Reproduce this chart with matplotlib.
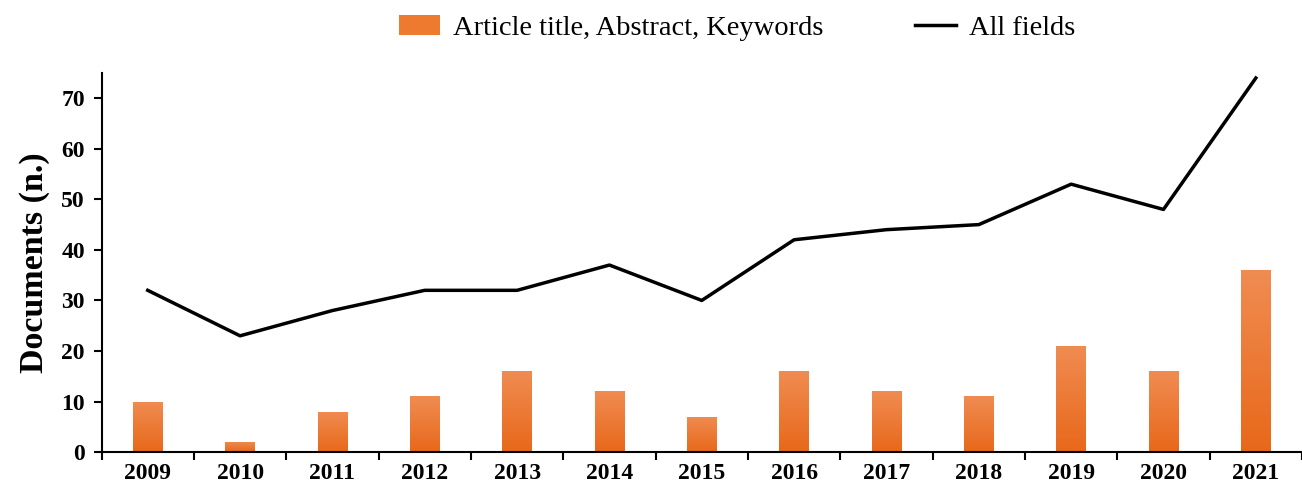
import matplotlib
matplotlib.use("Agg")
import matplotlib.pyplot as plt
import numpy as np
from matplotlib.patches import Patch
from matplotlib.lines import Line2D
from matplotlib.colors import LinearSegmentedColormap

years = ["2009", "2010", "2011", "2012", "2013", "2014", "2015", "2016", "2017", "2018", "2019", "2020", "2021"]
title_abs_kw = [10, 2, 8, 11, 16, 12, 7, 16, 12, 11, 21, 16, 36]
all_fields = [32, 23, 28, 32, 32, 37, 30, 42, 44, 45, 53, 48, 74]

plt.rcParams['font.family'] = ['Liberation Serif', 'DejaVu Serif']

fig = plt.figure(figsize=(13.02, 4.93), dpi=100)
ax = fig.add_axes([0.078, 0.083, 0.922, 0.769])

x = np.arange(len(years))
bw = 0.32
cmap = LinearSegmentedColormap.from_list("g", ["#e8681a", "#f08c52"])
grad = np.linspace(0, 1, 256).reshape(-1, 1)
bars = ax.bar(x, title_abs_kw, width=bw, color="none", edgecolor="none", zorder=2)
for b in bars:
    x0, y0 = b.get_x(), b.get_y()
    w, h = b.get_width(), b.get_height()
    im = ax.imshow(grad, cmap=cmap, origin="lower", aspect="auto",
                   extent=[x0, x0 + w, y0, y0 + h], zorder=2)
    im.set_clip_path(b)

ax.plot(x, all_fields, color="black", linewidth=2.5, zorder=3)

ax.set_xlim(-0.5, len(years) - 0.5)
ax.set_ylim(0, 75)
ax.set_yticks(np.arange(0, 71, 10))
ax.set_xticks(x)
ax.set_xticklabels(years)
ax.set_xticks(np.arange(-0.5, len(years), 1.0), minor=True)
ax.tick_params(axis='x', which='major', length=0, pad=8)
ax.tick_params(axis='x', which='minor', length=6, width=1.5, direction='out')
ax.tick_params(axis='y', length=6, width=1.5, direction='out', pad=6)
for lab in ax.get_xticklabels() + ax.get_yticklabels():
    lab.set_fontweight('bold')
    lab.set_fontsize(17)

for s in ['top', 'right']:
    ax.spines[s].set_visible(False)
for s in ['left', 'bottom']:
    ax.spines[s].set_linewidth(1.5)

ax.set_ylabel("Documents (n.)", fontsize=24.5, fontweight='bold', labelpad=8)

handles = [Patch(facecolor="#ee7a30", edgecolor="none"),
           Line2D([0], [0], color="black", linewidth=2.5)]
fig.legend(handles, ["Article title, Abstract, Keywords", "All fields"],
           loc='center', bbox_to_anchor=(0.566, 0.943), ncol=2, frameon=False,
           fontsize=20.5, columnspacing=3.2, handlelength=1.45, handletextpad=0.45)

fig.savefig("out.png", dpi=100)
